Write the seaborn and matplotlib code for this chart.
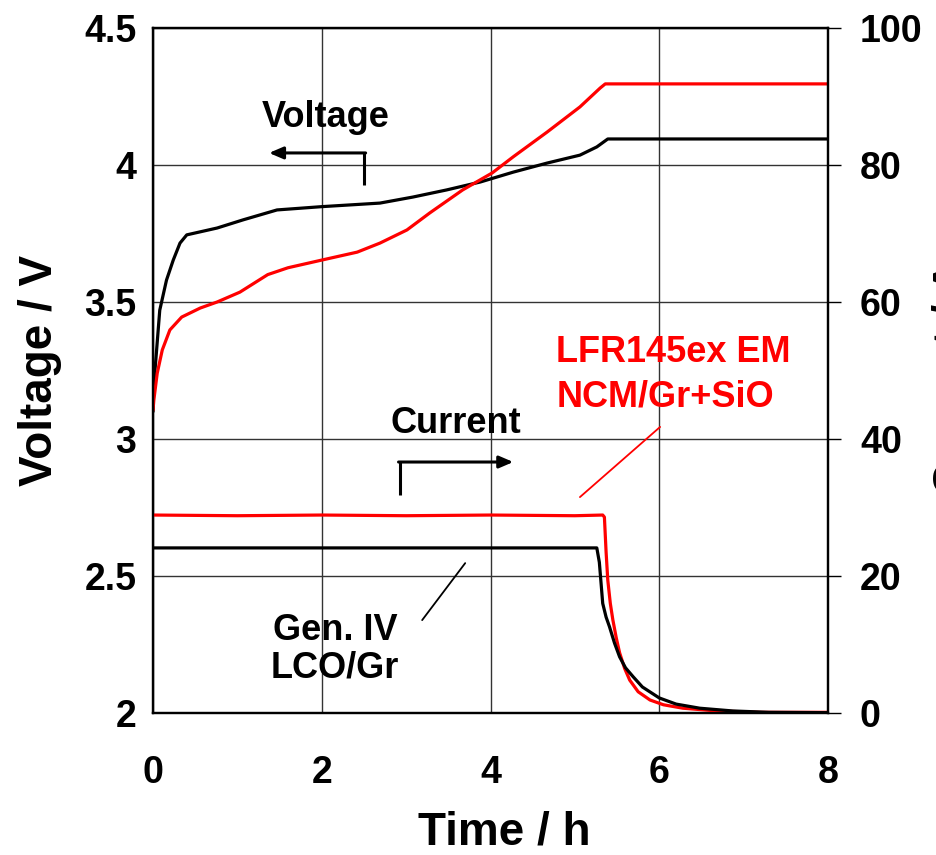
import matplotlib
matplotlib.use("Agg")
import matplotlib.pyplot as plt
import seaborn as sns
import pandas as pd

# ---------------- data ----------------
t_v_lco = [0, 0.01, 0.04, 0.08, 0.16, 0.24, 0.32, 0.40, 0.76, 1.07, 1.47, 2.0, 2.69, 3.08, 3.48, 3.88, 4.27,
           4.67, 5.06, 5.26, 5.39, 8.0]
v_lco = [3.10, 3.20, 3.314, 3.47, 3.58, 3.653, 3.715, 3.745, 3.77, 3.80, 3.836, 3.848, 3.861, 3.883, 3.909,
         3.938, 3.974, 4.007, 4.036, 4.066, 4.095, 4.095]

t_v_ncm = [0, 0.01, 0.05, 0.11, 0.2, 0.34, 0.56, 0.76, 1.03, 1.36, 1.6, 2.0, 2.42, 2.69, 3.01, 3.28, 3.67,
           4.02, 4.27, 4.67, 5.06, 5.30, 5.36, 8.0]
v_ncm = [3.105, 3.142, 3.24, 3.325, 3.398, 3.445, 3.478, 3.50, 3.536, 3.60, 3.625, 3.653, 3.682, 3.715, 3.763,
         3.825, 3.909, 3.971, 4.03, 4.12, 4.212, 4.281, 4.296, 4.296]

t_i_lco = [0, 5.26, 5.29, 5.31, 5.33, 5.37, 5.41, 5.47, 5.53, 5.6, 5.69, 5.8, 6.0, 6.2, 6.48, 6.87, 7.3, 8.0]
i_lco = [24.1, 24.1, 22.0, 19.0, 16.0, 14.0, 12.6, 10.2, 8.2, 6.6, 5.3, 3.8, 2.2, 1.3, 0.7, 0.3, 0.1, 0.05]

t_i_ncm = [0, 1.0, 2.0, 3.0, 4.0, 5.0, 5.33, 5.35, 5.37, 5.39, 5.42, 5.45, 5.49, 5.53, 5.59, 5.65, 5.75,
           5.89, 6.05, 6.28, 6.68, 7.2, 8.0]
i_ncm = [28.9, 28.8, 28.9, 28.8, 28.9, 28.8, 28.9, 28.6, 23.5, 19.4, 16.0, 13.6, 11.0, 8.8, 6.5, 4.8, 3.1,
         1.9, 1.2, 0.7, 0.3, 0.1, 0.1]

x_ticks = [0, 2, 4, 6, 8]
v_ticks = [2, 2.5, 3, 3.5, 4, 4.5]
v_ticklabels = ["2", "2.5", "3", "3.5", "4", "4.5"]
i_ticks = [0, 20, 40, 60, 80, 100]

df_v_lco = pd.DataFrame({"t": t_v_lco, "v": v_lco})
df_v_ncm = pd.DataFrame({"t": t_v_ncm, "v": v_ncm})
df_i_lco = pd.DataFrame({"t": t_i_lco, "i": i_lco})
df_i_ncm = pd.DataFrame({"t": t_i_ncm, "i": i_ncm})

# ---------------- style ----------------
sns.set_theme(style="white")
plt.rcParams["font.family"] = ["Liberation Sans", "DejaVu Sans"]
plt.rcParams["font.weight"] = "bold"
plt.rcParams["text.color"] = "black"
plt.rcParams["axes.labelcolor"] = "black"
plt.rcParams["xtick.color"] = "black"
plt.rcParams["ytick.color"] = "black"

fig = plt.figure(figsize=(9.36, 8.55), dpi=100)
ax = fig.add_axes([153 / 936, 1 - 713 / 855, 675 / 936, 685 / 855])
ax2 = ax.twinx()

RED = "#FF0000"
LW = 2.3

sns.lineplot(data=df_v_lco, x="t", y="v", ax=ax, color="black", lw=LW, estimator=None, sort=False)
sns.lineplot(data=df_v_ncm, x="t", y="v", ax=ax, color=RED, lw=LW, estimator=None, sort=False)
sns.lineplot(data=df_i_ncm, x="t", y="i", ax=ax2, color=RED, lw=LW, estimator=None, sort=False)
sns.lineplot(data=df_i_lco, x="t", y="i", ax=ax2, color="black", lw=LW, estimator=None, sort=False)

ax.set_xlim(0, 8)
ax.set_ylim(2, 4.5)
ax2.set_ylim(0, 100)
ax.set_xticks(x_ticks)
ax.set_yticks(v_ticks)
ax.set_yticklabels(v_ticklabels)
ax2.set_yticks(i_ticks)

ax.grid(True, color="#333333", lw=1.0)
ax2.grid(False)
for sp in list(ax.spines.values()) + list(ax2.spines.values()):
    sp.set_color("black")
    sp.set_linewidth(1.6)

TICK_FS = 27
ax.tick_params(axis="both", length=0, labelsize=TICK_FS, labelcolor="black")
ax.tick_params(axis="y", pad=12)
ax.tick_params(axis="x", pad=30)
ax2.tick_params(axis="y", length=9, width=1.0, color="black", pad=14,
                labelsize=TICK_FS, labelcolor="black", direction="out", right=True)
for lab in ax.get_xticklabels() + ax.get_yticklabels() + ax2.get_yticklabels():
    lab.set_fontweight("bold")

LAB_FS = 33
ax.set_xlabel("Time / h", fontsize=LAB_FS, fontweight="bold", color="black")
ax.set_ylabel("Voltage / V", fontsize=LAB_FS, fontweight="bold", color="black")
ax2.set_ylabel("Current / A", fontsize=LAB_FS, fontweight="bold", color="black", rotation=90)
ax.xaxis.set_label_coords(0.52, -0.143)
ax.yaxis.set_label_coords(-0.135, 0.5)
ax2.yaxis.set_label_coords(1.153, 0.49)

# ---------------- annotations ----------------
ANN_FS = 26
ax.text(1.29, 4.139, "Voltage", fontsize=ANN_FS, fontweight="bold", ha="left", va="baseline")
ax.text(2.81, 3.022, "Current", fontsize=ANN_FS, fontweight="bold", ha="left", va="baseline")
ax.text(6.16, 3.281, "LFR145ex EM", fontsize=ANN_FS, fontweight="bold", color=RED, ha="center", va="baseline")
ax.text(6.07, 3.12, "NCM/Gr+SiO", fontsize=ANN_FS, fontweight="bold", color=RED, ha="center", va="baseline")
ax.text(2.157, 2.266, "Gen. IV", fontsize=ANN_FS, fontweight="bold", ha="center", va="baseline")
ax.text(2.157, 2.128, "LCO/Gr", fontsize=ANN_FS, fontweight="bold", ha="center", va="baseline")

# leader lines
ax.plot([6.01, 5.06], [3.044, 2.788], color=RED, lw=1.3)
ax.plot([3.19, 3.70], [2.339, 2.547], color="black", lw=1.3)

# Voltage arrow
ax.plot([2.50, 2.50], [3.927, 4.044], color="black", lw=2.2, solid_capstyle="butt")
ax.annotate("", xy=(1.375, 4.044), xytext=(2.52, 4.044),
            arrowprops=dict(arrowstyle="-|>,head_length=0.7,head_width=0.3", color="black", lw=2.2,
                            shrinkA=0, shrinkB=0))
# Current arrow
ax.plot([2.93, 2.93], [2.796, 2.916], color="black", lw=2.2, solid_capstyle="butt")
ax.annotate("", xy=(4.27, 2.916), xytext=(2.91, 2.916),
            arrowprops=dict(arrowstyle="-|>,head_length=0.7,head_width=0.3", color="black", lw=2.2,
                            shrinkA=0, shrinkB=0))

fig.savefig("out.png", dpi=100)
